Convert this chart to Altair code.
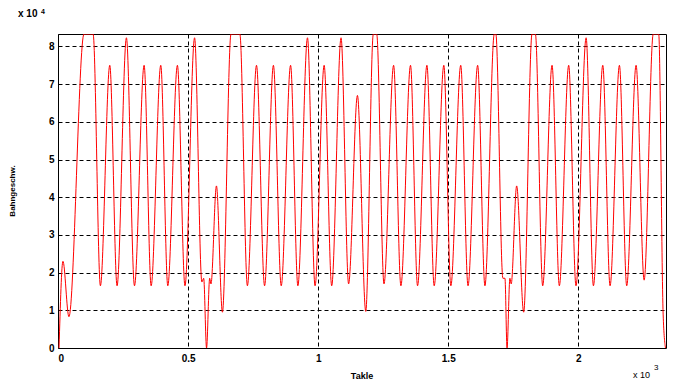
import altair as alt
import pandas as pd

# x in units of 10^3 (Takte), y in units of 10^4 (Bahngeschw.)
tx = [0.004, 0.019, 0.042, 0.100, 0.135, 0.163, 0.199, 0.227, 0.263, 0.294,
      0.331, 0.358, 0.395, 0.422, 0.459, 0.488, 0.525, 0.553, 0.560, 0.571,
      0.583, 0.588, 0.609, 0.632, 0.665, 0.699, 0.728, 0.763, 0.794, 0.828,
      0.858, 0.894, 0.922, 0.959, 0.988, 1.023, 1.052, 1.088, 1.117, 1.151,
      1.183, 1.212, 1.225, 1.253, 1.290, 1.318, 1.355, 1.382, 1.418, 1.446,
      1.483, 1.510, 1.548, 1.576, 1.613, 1.641, 1.677, 1.683, 1.710, 1.718,
      1.726, 1.737, 1.742, 1.763, 1.790, 1.822, 1.835, 1.863, 1.899, 1.927,
      1.963, 1.991, 2.030, 2.058, 2.094, 2.122, 2.158, 2.186, 2.222, 2.253,
      2.288, 2.309, 2.326, 2.335]
ty = [0.0, 2.3, 0.83, 8.33, 8.33, 1.65, 7.5, 1.65, 8.23, 1.65,
      7.5, 1.65, 7.5, 1.65, 7.5, 1.65, 8.23, 1.75, 1.85, 0.0,
      1.85, 1.7, 4.3, 0.95, 8.33, 8.33, 1.65, 7.5, 1.65, 7.5,
      1.65, 7.5, 1.65, 8.23, 1.65, 7.5, 1.65, 8.23, 1.7, 6.7,
      0.97, 8.33, 8.33, 1.7, 7.5, 1.65, 7.5, 1.65, 7.5, 1.65,
      7.5, 1.65, 7.5, 1.65, 7.5, 1.65, 8.33, 8.33, 1.85, 1.85,
      0.0, 1.85, 1.7, 4.3, 0.95, 8.33, 8.33, 1.65, 7.5, 1.65,
      7.5, 1.65, 8.23, 1.65, 7.5, 1.65, 7.5, 1.65, 7.5, 1.8,
      8.33, 8.33, 0.9, 0.0]

x_ticks = [0, 0.5, 1, 1.5, 2]
y_ticks = [0, 1, 2, 3, 4, 5, 6, 7, 8]
x_title = "Takle"
y_title = "Bahngeschw."

W, H = 608, 314
FONT = "Liberation Sans"

df = pd.DataFrame({"x": tx, "y": ty})

line = alt.Chart(df).mark_line(color="#ff0000", strokeWidth=1, interpolate="monotone", clip=True).encode(
    x=alt.X("x:Q", scale=alt.Scale(domain=[0, 2.337], nice=False, zero=False),
            axis=alt.Axis(values=x_ticks, format="~g", title=None, grid=True,
                          gridColor="black", gridDash=[4, 3], gridOpacity=1, gridWidth=1,
                          domain=False, ticks=False, labelPadding=5,
                          labelFont=FONT, labelFontSize=10, labelFontWeight="bold",
                          labelColor="black")),
    y=alt.Y("y:Q", scale=alt.Scale(domain=[0, 8.33], nice=False, zero=False),
            axis=alt.Axis(values=y_ticks, format="~g", title=None, grid=True,
                          gridColor="black", gridDash=[4, 3], gridOpacity=1, gridWidth=1,
                          domain=False, ticks=False, labelPadding=4,
                          labelFont=FONT, labelFontSize=10, labelFontWeight="bold",
                          labelColor="black")),
)

one = pd.DataFrame({"t": [0]})

def txt(s, x, y, size, weight="normal", angle=0, align="left", baseline="alphabetic"):
    kw = dict(text=s, font=FONT, fontSize=size, fontWeight=weight, color="black",
              align=align, baseline=baseline)
    if angle:
        kw["angle"] = angle
    return alt.Chart(one).mark_text(**kw).encode(x=alt.value(x), y=alt.value(y))

texts = [
    txt("x 10", -40, -17, 10, "bold"),
    txt("4", -17, -20, 7, "bold"),
    txt("x 10", 575, 344, 9),
    txt("3", 596, 336, 8),
    txt(x_title, 304, 345, 9, "bold", align="center"),
    txt(y_title, -45, 157, 8, "bold", angle=270, align="center", baseline="middle"),
]

chart = alt.layer(line, *texts).properties(
    width=W, height=H,
    autosize=alt.AutoSizeParams(type="none"),
    padding={"left": 50, "top": 26, "right": 8, "bottom": 36},
    background="white",
).configure_view(stroke="black", strokeWidth=1)

chart.save("out.html", embed_options={"renderer": "svg", "actions": False})
